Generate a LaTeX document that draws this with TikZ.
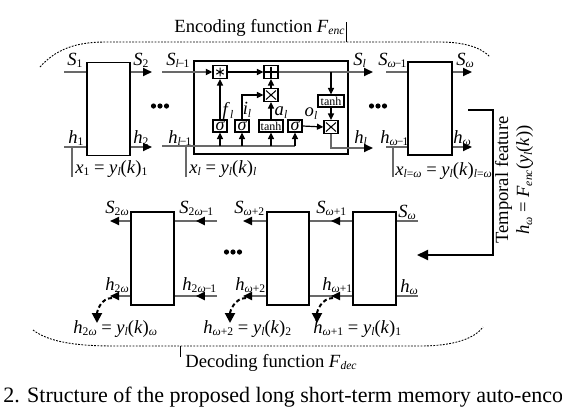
\documentclass[tikz,border=0pt]{standalone}
\usepackage{fontspec}
\setmainfont{Liberation Serif}
\usetikzlibrary{arrows.meta,decorations.markings,calc}
\definecolor{lg}{RGB}{105,105,105}
\newcommand\sbs[1]{\raisebox{-0.35ex}{\fontsize{5.8}{7}\selectfont #1}}
\newcommand\mn{\kern-0.08em−\kern-0.08em}
\newcommand\vS[1]{\textit{S}\sbs{#1}}
\newcommand\vh[1]{\textit{h}\sbs{#1}}
\newcommand\omg{\textit{ω}}
\newcommand\lsub{\textit{l}}
\newcommand\yk[1]{\textit{y}\sbs{\lsub}(\textit{k})\sbs{#1}}
\newcommand\Fsub[1]{\textit{F}\sbs{\textit{#1}}}
\begin{document}
\begin{tikzpicture}[x=0.5pt,y=-0.5pt,
  font=\fontsize{9.3}{11}\selectfont,
  gline/.style={draw=lg, line width=1pt},
  tipA/.style={-{Triangle[length=4.5pt,width=4pt,color=black]}},
  cellbox/.style={draw=black, line width=0.7pt, fill=white, inner sep=0pt, minimum width=21.5pt, minimum height=46.5pt},
  gate/.style={draw=black, line width=0.65pt, fill=white, inner sep=0pt, minimum width=7pt, minimum height=6.5pt},
  wgate/.style={gate, minimum width=12pt, minimum height=6pt, font=\fontsize{6}{7}\selectfont},
  sgate/.style={gate, minimum height=6pt, font=\fontsize{9}{10}\selectfont\itshape},
  iarr/.style={draw=black, line width=0.6pt, -{Triangle[length=3.2pt,width=3pt]}},
  lab/.style={inner sep=0pt, anchor=base west},
  glab/.style={inner sep=0pt, font=\fontsize{9.3}{11}\selectfont},
  midarr/.style={postaction={decorate}, decoration={markings, mark=at position 0.5 with {\arrow{Triangle[length=4.5pt,width=4pt,color=black]}}}},
  bound/.style={draw=black, line width=0.45pt, dash pattern=on 0.9pt off 0.7pt},
  darr/.style={draw=black, line width=1pt, dash pattern=on 2pt off 1.3pt, -{Triangle[length=5pt,width=5pt]}},
  bk/.style={draw=black, line width=1pt, -{Triangle[length=5.5pt,width=5pt]}},
  tick/.style={draw=black, line width=0.4pt}
]
\clip (0,0) rectangle (562,408);

% ---------- encoder boundary ----------
\draw[bound] (40,67) .. controls (55,50) and (75,42) .. (105,42) -- (440,42) .. controls (465,42) and (482,48) .. (490,57);
\node[lab] (enc) at (174,32) {Encoding function \Fsub{enc}};
\coordinate (tk1) at ([xshift=0.6pt]enc.east |- 0,22);
\draw[tick] (tk1) -- (tk1 |- 0,42);

% ---------- encoder cells ----------
\node[cellbox] (c1) at (108.5,109) {};
\node[cellbox, minimum width=77pt] (cl) at (271,107.5) {};
\node[cellbox, minimum width=22pt] (cw) at (430,108.5) {};

% cell 1 lines
\coordinate (s1i) at (64,72);  \draw[gline] (s1i) -- (s1i -| c1.west);
\coordinate (h1i) at (64,147); \draw[gline] (h1i) -- (h1i -| c1.west);
\coordinate (s2o) at (152,72);  \draw[gline,tipA] (s2o -| c1.east) -- (s2o);
\coordinate (h2o) at (152,147); \draw[gline,tipA] (h2o -| c1.east) -- (h2o);
\coordinate (x1) at (72,177); \draw[gline] (x1) -- (x1 |- h1i);

% dots
\coordinate (dt1) at (160,106);
\coordinate (dt2) at (378,106);
\coordinate (dt3) at (233,252);
\foreach \p in {dt1,dt2,dt3}{
  \foreach \dx in {-6.5,0,6.5} \fill ($(\p)+(\dx,0)$) circle[radius=1.3pt];
}

% LSTM cell gates
\node[gate] (ast) at (220,72) {};
\draw[line width=0.5pt, shift={(ast.center)}] (30:4.3) -- (210:4.3) (90:4.3) -- (270:4.3) (150:4.3) -- (330:4.3);
\node[gate] (plus) at (271,72) {};
\draw[line width=0.6pt, shift={(plus.center)}] (-6,0) -- (6,0) (0,-5.5) -- (0,5.5);
\node[gate] (mul1) at (271,95) {};
\draw[line width=0.5pt, shift={(mul1.center)}] (-5,-4.5) -- (5,4.5) (-5,4.5) -- (5,-4.5);
\node[gate] (mul2) at (331,127) {};
\draw[line width=0.5pt, shift={(mul2.center)}] (-5,-4.5) -- (5,4.5) (-5,4.5) -- (5,-4.5);
\node[sgate] (sg1) at (220,126) {σ};
\node[sgate] (sg2) at (242,126) {σ};
\node[wgate] (th1) at (271,126) {tanh};
\node[sgate] (sg4) at (295,126) {σ};
\node[wgate, minimum width=13pt] (th2) at (331,101) {tanh};

% LSTM cell lines
\coordinate (sli) at (162,72);
\coordinate (hli) at (162,146);
\draw[gline,-{Triangle[length=3.2pt,width=3pt,color=black]}] (sli) -- (ast.west);
\draw[gline] (hli) -- (sg4 |- hli);
\draw[iarr] (ast.east) -- (plus.west);
\coordinate (slo) at (373,72);
\coordinate (hlo) at (373,148);
\draw[gline,tipA] (plus.east) -- (slo);
\draw[gline,tipA] (mul2.south) |- (hlo);
\draw[iarr] (th2 |- sli) -- (th2.north);
\draw[iarr] (th2.south) -- (mul2.north);
\draw[iarr] (sg1.north) -- (ast.south);
\draw[iarr] (sg2.north) |- (mul1.west);
\draw[iarr] (th1.north) -- (mul1.south);
\draw[iarr] (mul1.north) -- (plus.south);
\draw[iarr] (sg4.east) -- (mul2.west);
\foreach \g in {sg1,sg2,th1,sg4} \draw[iarr] (\g |- hli) -- (\g.south);
\coordinate (xl) at (186,177); \draw[gline] (xl) -- (xl |- hli);

\node[glab] (fl) at (228,111) {\textit{f}\sbs{\lsub}};
\node[glab] (il) at (247,110) {\textit{i}\sbs{\lsub}};
\node[glab] (al) at (281,113) {\textit{a}\sbs{\lsub}};
\node[glab] (ol) at (311,114) {\textit{o}\sbs{\lsub}};

% cell omega-1 lines
\coordinate (swi) at (386,72);  \draw[gline] (swi) -- (swi -| cw.west);
\coordinate (hwi) at (386,147); \draw[gline] (hwi) -- (hwi -| cw.west);
\coordinate (swo) at (472,72);  \draw[gline,tipA] (swo -| cw.east) -- (swo);
\coordinate (hwo) at (472,147); \draw[gline,tipA] (hwo -| cw.east) -- (hwo);
\coordinate (xw) at (393,177); \draw[gline] (xw) -- (xw |- hwi);

% encoder labels
\node[lab] (lS1) at (67,65) {\vS{1}};
\node[lab] (lS2) at (133,65) {\vS{2}};
\node[lab] (lSl1) at (166,65) {\vS{\lsub\mn1}};
\node[lab] (lSl) at (353,65) {\vS{\lsub}};
\node[lab] (lSw1) at (378,65) {\vS{\omg\mn1}};
\node[lab] (lSw) at (456,65) {\vS{\omg}};
\node[lab] (lh1) at (68,143) {\vh{1}};
\node[lab] (lh2) at (133,143) {\vh{2}};
\node[lab] (lhl1) at (168,143) {\vh{\lsub\mn1}};
\node[lab] (lhl) at (354,143) {\vh{\lsub}};
\node[lab] (lhw1) at (380,143) {\vh{\omg\mn1}};
\node[lab] (lhw) at (453,143) {\vh{\omg}};
\node[lab] (lx1) at (75,173) {\textit{x}\sbs{1} = \yk{1}};
\node[lab] (lxl) at (189,173) {\textit{x}\sbs{\lsub} = \yk{\lsub}};
\node[lab] (lxw) at (395,175) {\textit{x}\sbs{\lsub=\omg} = \yk{\lsub=\omg}};

% temporal feature bracket
\coordinate (b1) at (468,110);
\coordinate (b2) at (417,255);
\draw[bk] (b1) -- (493,110) -- (493,255) -- (b2);
\node[rotate=90, align=center, inner sep=0pt, font=\fontsize{9.3}{10.5}\selectfont] (tf) at (514,180)
  {Temporal feature\\\vh{\omg} = \Fsub{enc}(\textit{y}\sbs{\lsub}(\textit{k}))};

% ---------- decoder cells ----------
\node[cellbox] (dA) at (152.5,258.5) {};
\node[cellbox, minimum width=21pt] (dB) at (288,258.5) {};
\node[cellbox] (dC) at (374.5,258.5) {};

\coordinate (sAo) at (110,221); \draw[gline,tipA] (sAo -| dA.west) -- (sAo);
\coordinate (hAo) at (110,296); \draw[gline,tipA] (hAo -| dA.west) -- (hAo);
\coordinate (sAi) at (217,221); \draw[gline,midarr] (sAi) -- (sAi -| dA.east);
\coordinate (hAi) at (217,296); \draw[gline,midarr] (hAi) -- (hAi -| dA.east);
\coordinate (sBo) at (243,221); \draw[gline,tipA] (sBo -| dB.west) -- (sBo);
\coordinate (hBo) at (243,296); \draw[gline,tipA] (hBo -| dB.west) -- (hBo);
\draw[gline,midarr] (dC.west |- sAi) -- (dB.east |- sAi);
\draw[gline,midarr] (dC.west |- hAi) -- (dB.east |- hAi);
\coordinate (sCi) at (418,221); \draw[gline] (sCi) -- (sCi -| dC.east);
\coordinate (hCi) at (418,296); \draw[gline] (hCi) -- (hCi -| dC.east);

% decoder labels
\node[lab] (dS1) at (105,213) {\vS{2\omg}};
\node[lab] (dS2) at (179,213) {\vS{2\omg\mn1}};
\node[lab] (dS3) at (234,213) {\vS{\omg+2}};
\node[lab] (dS4) at (316,213) {\vS{\omg+1}};
\node[lab] (dS5) at (398,217) {\vS{\omg}};
\node[lab] (dh1) at (105,290) {\vh{2\omg}};
\node[lab] (dh2) at (182,290) {\vh{2\omg\mn1}};
\node[lab] (dh3) at (235,290) {\vh{\omg+2}};
\node[lab] (dh4) at (322,290) {\vh{\omg+1}};
\node[lab] (dh5) at (400,292) {\vh{\omg}};

% dashed output arrows
\coordinate (qa) at (112,298); \coordinate (qa2) at (97,323);
\coordinate (qb) at (246,298); \coordinate (qb2) at (230,323);
\coordinate (qc) at (333,298); \coordinate (qc2) at (317,323);
\draw[darr] (qa) to[out=180,in=90] (qa2);
\draw[darr] (qb) to[out=180,in=90] (qb2);
\draw[darr] (qc) to[out=180,in=90] (qc2);

\node[lab] (eA) at (73,333) {\vh{2\omg} = \yk{\omg}};
\node[lab] (eB) at (203,333) {\vh{\omg+2} = \yk{2}};
\node[lab] (eC) at (313,333) {\vh{\omg+1} = \yk{1}};

% decoder boundary
\draw[bound] (33,330) .. controls (50,343) and (80,346) .. (115,346) -- (420,346) .. controls (455,346) and (475,338) .. (483,327);
\coordinate (tk2) at (180,357);
\draw[tick] (tk2) -- (180,346);
\node[lab] (dec) at (185,367) {Decoding function \Fsub{dec}};

% caption
\node[lab, font=\fontsize{11}{13}\selectfont] (cap) at (3,402) {2. Structure of the proposed long short-term memory auto-encoder};
\end{tikzpicture}
\end{document}
